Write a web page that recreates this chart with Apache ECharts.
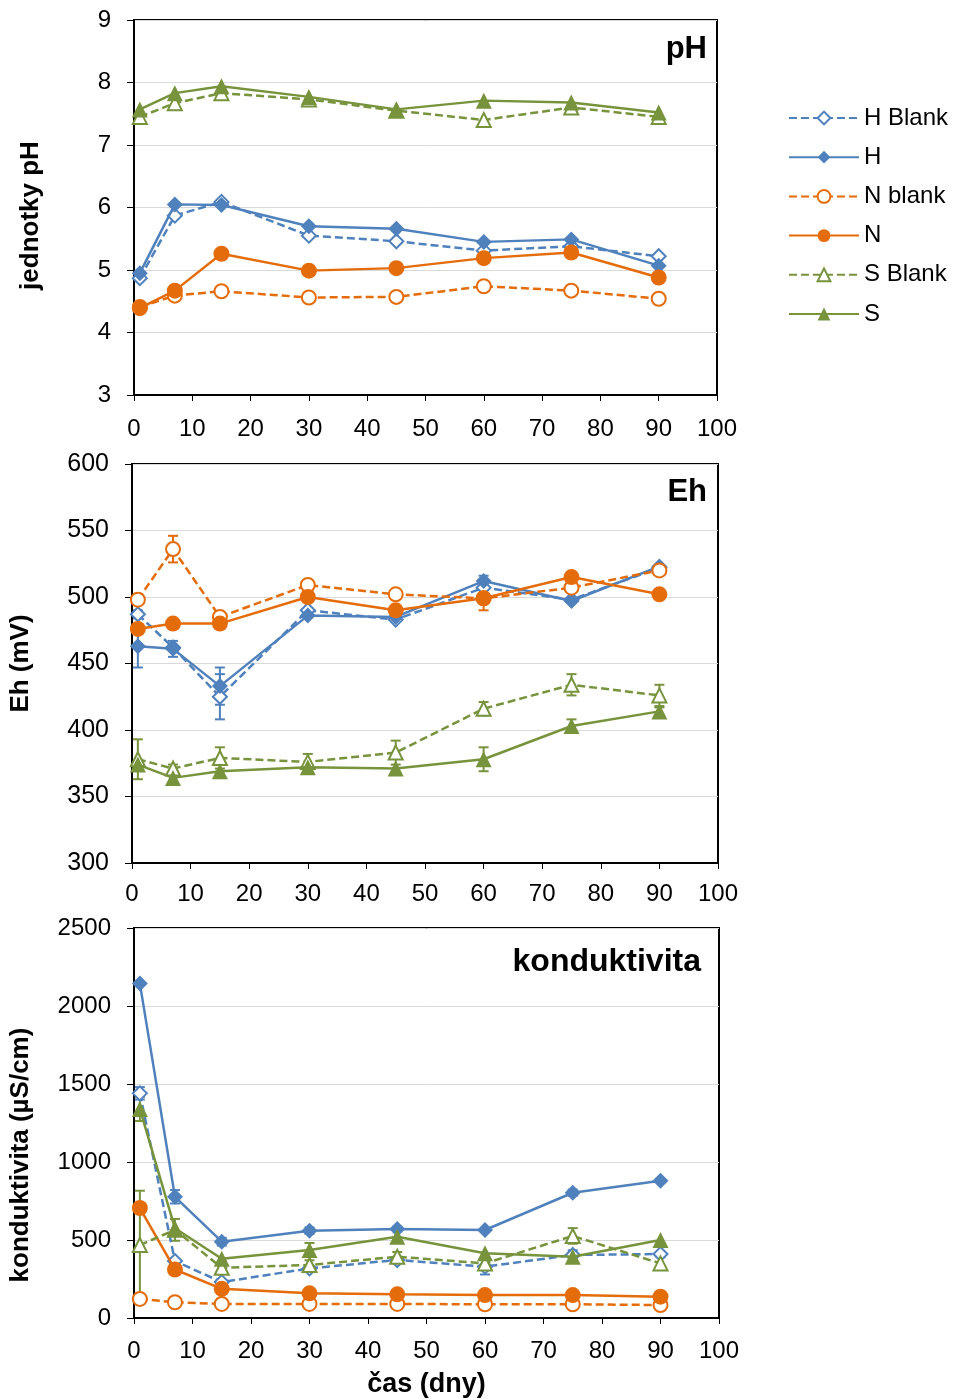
<!DOCTYPE html>
<html>
<head>
<meta charset="utf-8">
<title>pH, Eh a konduktivita v čase</title>
<script src="https://cdn.jsdelivr.net/npm/echarts@6/dist/echarts.min.js"></script>
<style>
  html, body { margin: 0; padding: 0; background: #fff; }
  #chart { width: 955px; height: 1399px; }
</style>
</head>
<body>
<div id="chart"></div>
<script>
// Sampling days (x axis)
const days = [1, 7, 15, 30, 45, 60, 75, 90];
const xTicks = [0, 10, 20, 30, 40, 50, 60, 70, 80, 90, 100];

// Series names in legend order
const seriesNames = ['H Blank', 'H', 'N blank', 'N', 'S Blank', 'S'];

// pH
const phHBlank = [4.87, 5.87, 6.09, 5.55, 5.46, 5.31, 5.38, 5.22];
const phH      = [4.95, 6.05, 6.04, 5.70, 5.66, 5.45, 5.49, 5.07];
const phNBlank = [4.41, 4.59, 4.66, 4.56, 4.57, 4.74, 4.67, 4.54];
const phN      = [4.39, 4.67, 5.26, 4.99, 5.03, 5.19, 5.28, 4.88];
const phSBlank = [7.45, 7.67, 7.83, 7.73, 7.55, 7.40, 7.60, 7.45];
const phS      = [7.57, 7.83, 7.94, 7.77, 7.57, 7.71, 7.68, 7.52];

// Eh (mV) and standard deviations
const ehHBlank = [487, 462, 425, 490, 483, 507, 498, 522];
const ehH      = [463, 461, 433, 486, 485, 512, 497, 523];
const ehNBlank = [498, 536, 485, 509, 502, 499, 507, 520];
const ehN      = [476, 480, 480, 500, 490, 499, 515, 502];
const ehSBlank = [378, 371, 379, 376, 383, 416, 434, 426];
const ehS      = [374, 364, 369, 372, 371, 378, 403, 414];
const ehHBlankErr = [3, 0, 17, 0, 0, 0, 0, 0];
const ehHErr      = [16, 6, 14, 0, 0, 4, 0, 0];
const ehNBlankErr = [0, 10, 0, 0, 0, 0, 0, 0];
const ehNErr      = [0, 0, 0, 0, 0, 9, 0, 0];
const ehSBlankErr = [15, 3, 8, 6, 9, 5, 8, 8];
const ehSErr      = [0, 0, 0, 0, 0, 9, 5, 3];

// Conductivity (µS/cm) and standard deviations
const kHBlank = [1440, 365, 230, 318, 372, 329, 404, 410];
const kH      = [2145, 777, 489, 560, 570, 564, 803, 880];
const kNBlank = [122, 101, 90, 90, 90, 88, 88, 83];
const kN      = [705, 311, 187, 158, 152, 147, 147, 137];
const kSBlank = [468, 565, 322, 340, 393, 350, 526, 350];
const kS      = [1340, 575, 380, 436, 521, 415, 393, 500];
const kHBlankErr = [40, 0, 0, 0, 0, 50, 30, 0];
const kHErr      = [0, 43, 25, 20, 15, 0, 20, 0];
const kNBlankErr = [0, 0, 0, 0, 0, 0, 0, 0];
const kNErr      = [0, 0, 0, 0, 0, 0, 0, 0];
const kSBlankErr = [348, 70, 40, 30, 30, 40, 50, 40];
const kSErr      = [77, 0, 0, 45, 40, 0, 0, 0];

const BLUE = '#4f81bd', ORANGE = '#e46c0a', GREEN = '#77933c';
const FONT = 'Liberation Sans, Arial, sans-serif';

// Marker / line style for each series, in legend order
const styles = [
  { color: BLUE,   symbol: 'emptyDiamond',  dashed: true,  size: 14 },
  { color: BLUE,   symbol: 'diamond',       dashed: false, size: 16 },
  { color: ORANGE, symbol: 'emptyCircle',   dashed: true,  size: 14 },
  { color: ORANGE, symbol: 'circle',        dashed: false, size: 16 },
  { color: GREEN,  symbol: 'emptyTriangle', dashed: true,  size: 14 },
  { color: GREEN,  symbol: 'triangle',      dashed: false, size: 16 }
];

const panels = [
  { values: [phHBlank, phH, phNBlank, phN, phSBlank, phS], errors: null },
  { values: [ehHBlank, ehH, ehNBlank, ehN, ehSBlank, ehS],
    errors: [ehHBlankErr, ehHErr, ehNBlankErr, ehNErr, ehSBlankErr, ehSErr] },
  { values: [kHBlank, kH, kNBlank, kN, kSBlank, kS],
    errors: [kHBlankErr, kHErr, kNBlankErr, kNErr, kSBlankErr, kSErr] }
];

const grids = [
  { left: 134, top: 20,  width: 583, height: 375 },
  { left: 132, top: 464, width: 586, height: 399 },
  { left: 134, top: 928, width: 585, height: 390 }
].map(g => Object.assign({ show: true, borderColor: '#000', borderWidth: 2, backgroundColor: 'transparent' }, g));

const nameStyle = { fontSize: 26, fontWeight: 'bold', color: '#000', fontFamily: FONT };

function tickLabel(size) {
  return { fontSize: size, color: '#000', fontFamily: FONT };
}

function xAxis(i, margin, name) {
  return {
    type: 'value', gridIndex: i, min: xTicks[0], max: xTicks[xTicks.length - 1], interval: 10,
    axisLine: { show: true, onZero: false, lineStyle: { color: '#000', width: 2 } },
    axisTick: { show: true, inside: false, length: 6, lineStyle: { color: '#000', width: 1 } },
    axisLabel: Object.assign({ margin: margin }, tickLabel(24)),
    splitLine: { show: false },
    name: name || '', nameLocation: 'middle', nameGap: 53,
    nameTextStyle: Object.assign({}, nameStyle, { fontSize: 27 })
  };
}
function yAxis(i, min, max, interval, labelSize, name, gap, shift) {
  return {
    type: 'value', gridIndex: i, min: min, max: max, interval: interval,
    axisLine: { show: true, onZero: false, lineStyle: { color: '#000', width: 2 } },
    axisTick: { show: true, inside: false, length: 7, lineStyle: { color: '#000', width: 1 } },
    axisLabel: Object.assign({ margin: 23, formatter: v => String(v) }, tickLabel(labelSize)),
    splitLine: { show: true, lineStyle: { color: '#d9d9d9', width: 1 } },
    name: name, nameLocation: 'middle', nameRotate: 90, nameGap: gap,
    // padding on the text's right side moves the rotated name downward
    nameTextStyle: Object.assign({ padding: [0, shift * 2, 0, 0] }, nameStyle)
  };
}

const series = [];
panels.forEach((p, gi) => {
  p.values.forEach((vals, si) => {
    const st = styles[si];
    series.push({
      type: 'line', name: seriesNames[si], xAxisIndex: gi, yAxisIndex: gi,
      data: days.map((d, k) => [d, vals[k]]),
      symbol: st.symbol, symbolSize: st.size, showSymbol: true,
      lineStyle: { color: st.color, width: 2.5, type: st.dashed ? [8, 4] : 'solid' },
      itemStyle: { color: st.color, borderColor: st.color, borderWidth: st.dashed ? 2.4 : 0 },
      emphasis: { disabled: true },
      z: 3 + si * 0.1,
      animation: false
    });
  });
  // Error bars (mean ± sd)
  if (p.errors) {
    p.errors.forEach((errs, si) => {
      const data = [];
      days.forEach((d, k) => {
        if (errs[k] > 0) data.push([d, p.values[si][k] - errs[k], p.values[si][k] + errs[k]]);
      });
      if (!data.length) return;
      const col = styles[si].color;
      series.push({
        type: 'custom', xAxisIndex: gi, yAxisIndex: gi, data: data, z: 2,
        silent: true, animation: false,
        renderItem: function (params, api) {
          const lo = api.coord([api.value(0), api.value(1)]);
          const hi = api.coord([api.value(0), api.value(2)]);
          const w = 5;
          const st = { stroke: col, lineWidth: 2 };
          return {
            type: 'group',
            children: [
              { type: 'line', shape: { x1: lo[0], y1: lo[1], x2: hi[0], y2: hi[1] }, style: st },
              { type: 'line', shape: { x1: lo[0] - w, y1: lo[1], x2: lo[0] + w, y2: lo[1] }, style: st },
              { type: 'line', shape: { x1: hi[0] - w, y1: hi[1], x2: hi[0] + w, y2: hi[1] }, style: st }
            ]
          };
        }
      });
    });
  }
});

const titleStyle = { fontSize: 31, fontWeight: 'bold', color: '#000', fontFamily: FONT };

const option = {
  backgroundColor: '#fff',
  animation: false,
  title: [
    { text: 'pH', right: 248, top: 34, padding: 0, textStyle: titleStyle },
    { text: 'Eh', right: 248, top: 477, padding: 0, textStyle: titleStyle },
    { text: 'konduktivita', right: 254, top: 946, padding: 0, textStyle: Object.assign({}, titleStyle, { fontSize: 32 }) }
  ],
  legend: {
    data: seriesNames, orient: 'vertical', left: 788, top: 106,
    itemWidth: 70, itemHeight: 16, itemGap: 15.2, padding: 0,
    textStyle: { fontSize: 24, color: '#000', fontFamily: FONT, padding: [0, 0, 0, 0] },
    selectedMode: false
  },
  grid: grids,
  xAxis: [xAxis(0, 22), xAxis(1, 19), xAxis(2, 21, 'čas (dny)')],
  yAxis: [
    yAxis(0, 3, 9, 1, 24, 'jednotky pH', 90, 8),
    yAxis(1, 300, 600, 50, 25, 'Eh (mV)', 98, 0),
    yAxis(2, 0, 2500, 500, 24, 'konduktivita (µS/cm)', 100, 32)
  ],
  series: series
};

const chart = echarts.init(document.getElementById('chart'), null, { renderer: 'canvas' });
chart.setOption(option);
</script>
</body>
</html>
